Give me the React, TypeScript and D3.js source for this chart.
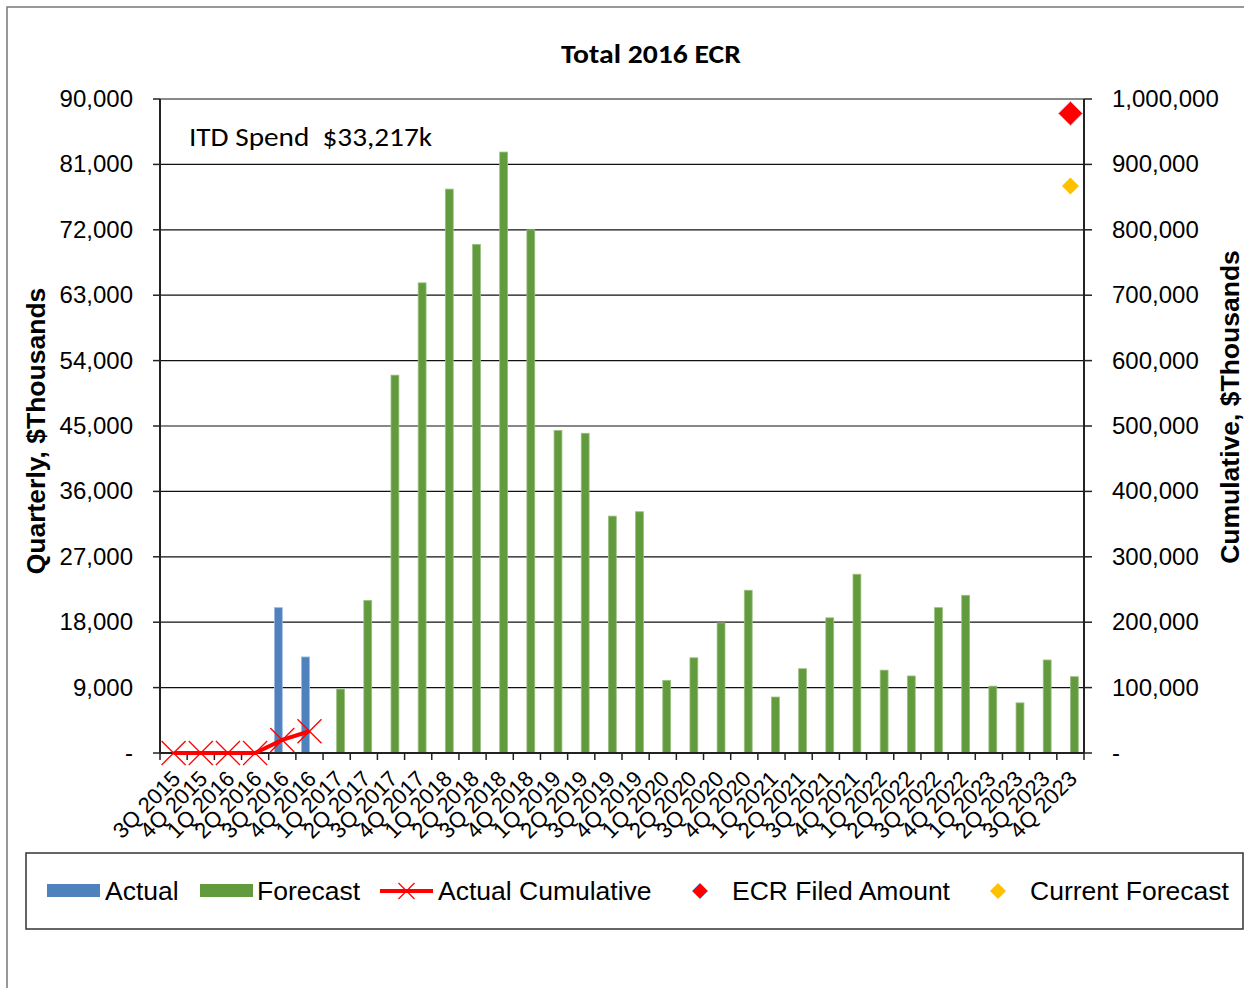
import React from 'react';
import * as d3 from 'd3';

// quarters shown on the x axis
const quarters = [
  '3Q 2015', '4Q 2015',
  '1Q 2016', '2Q 2016', '3Q 2016', '4Q 2016',
  '1Q 2017', '2Q 2017', '3Q 2017', '4Q 2017',
  '1Q 2018', '2Q 2018', '3Q 2018', '4Q 2018',
  '1Q 2019', '2Q 2019', '3Q 2019', '4Q 2019',
  '1Q 2020', '2Q 2020', '3Q 2020', '4Q 2020',
  '1Q 2021', '2Q 2021', '3Q 2021', '4Q 2021',
  '1Q 2022', '2Q 2022', '3Q 2022', '4Q 2022',
  '1Q 2023', '2Q 2023', '3Q 2023', '4Q 2023',
];

// quarterly spend, $Thousands (null = no bar)
const actual: (number | null)[] = [
  null, null, null, null, 20000, 13217,
];
const forecast: (number | null)[] = [
  null, null, null, null, null, null,
  8800, 21000, 52000, 64700,
  77600, 70000, 82700, 72000,
  44400, 44000, 32600, 33200,
  10000, 13100, 17900, 22400,
  7700, 11600, 18600, 24600,
  11400, 10600, 20000, 21700,
  9200, 6900, 12800, 10500,
];
// cumulative actual, $Thousands (right axis)
const actualCumulative = [0, 0, 0, 0, 20000, 33217];

const ecrFiled = { quarter: '4Q 2023', value: 978000 };
const currentForecast = { quarter: '4Q 2023', value: 867000 };

const leftTicks = d3.range(0, 90001, 9000);
const rightTicks = d3.range(0, 1000001, 100000);

const BLUE = '#4F81BD';
const GREEN = '#629A3E';
const RED = '#FF0000';
const GOLD = '#FFC000';
const ARIAL = '"Liberation Sans", Arial, sans-serif';
const CALIBRI = 'Carlito, Lato, "Open Sans", sans-serif';

const margin = { top: 99, left: 160, right: 1084, bottom: 753 };

const fmt = (v: number) => (v === 0 ? '-' : d3.format(',')(v));

const XMark = ({ x, y, r, w }: { x: number; y: number; r: number; w: number }) => (
  <g stroke={RED} strokeWidth={w}>
    <line x1={x - r} y1={y - r} x2={x + r} y2={y + r} />
    <line x1={x - r} y1={y + r} x2={x + r} y2={y - r} />
  </g>
);

const Diamond = ({ x, y, r, fill, stroke }: { x: number; y: number; r: number; fill: string; stroke?: string }) => (
  <path
    d={`M${x},${y - r}L${x + r},${y}L${x},${y + r}L${x - r},${y}Z`}
    fill={fill}
    stroke={stroke || 'none'}
    strokeWidth={1}
  />
);

const App: React.FC = () => {
  const x = d3.scaleBand<string>()
    .domain(quarters)
    .range([margin.left, margin.right])
    .paddingInner(0)
    .paddingOuter(0);
  const bw = x.bandwidth();

  const x1 = d3.scaleBand<string>()
    .domain(['Actual', 'Forecast'])
    .range([bw * 0.21, bw * 0.79]);

  const yL = d3.scaleLinear().domain([0, 90000]).range([margin.bottom, margin.top]);
  const yR = d3.scaleLinear().domain([0, 1000000]).range([margin.bottom, margin.top]);

  const cx = (q: string) => (x(q) || 0) + bw / 2;

  const cumPts = actualCumulative.map((v, i) => [cx(quarters[i]), yR(v)] as [number, number]);
  const cumLine = d3.line()(cumPts) || '';

  const boundaries = quarters.map((q) => x(q) || 0).concat([margin.right]);

  return (
    <svg width={1244} height={988} style={{ position: 'absolute', left: 0, top: 0, background: '#fff' }}>
      {/* chart frame */}
      <rect x={7} y={7} width={1300} height={1100} fill="#fff" stroke="#777" strokeWidth={1.5} />

      <text x={651} y={63} textAnchor="middle" fontFamily={CALIBRI} fontWeight="bold" fontSize={27}
        textLength={180} lengthAdjust="spacingAndGlyphs">
        Total 2016 ECR
      </text>

      {/* gridlines */}
      {leftTicks.map((t) => (
        <line key={'g' + t} x1={margin.left} x2={margin.right} y1={yL(t)} y2={yL(t)}
          stroke={t === 90000 ? '#888' : '#111'} strokeWidth={t === 90000 ? 2 : 1.2} />
      ))}

      {/* bars */}
      {quarters.map((q, i) => (
        <g key={q}>
          {actual[i] != null && (
            <rect x={(x(q) || 0) + (x1('Actual') || 0)} width={x1.bandwidth()}
              y={yL(actual[i] as number)} height={margin.bottom - yL(actual[i] as number)}
              fill={BLUE} stroke="#9DB9DC" strokeWidth={0.8} />
          )}
          {forecast[i] != null && (
            <rect x={(x(q) || 0) + (x1('Forecast') || 0)} width={x1.bandwidth()}
              y={yL(forecast[i] as number)} height={margin.bottom - yL(forecast[i] as number)}
              fill={GREEN} stroke="#9CC07F" strokeWidth={0.8} />
          )}
        </g>
      ))}

      {/* axes */}
      <line x1={margin.left} x2={margin.left} y1={margin.top} y2={margin.bottom} stroke="#222" strokeWidth={2} />
      <line x1={margin.right} x2={margin.right} y1={margin.top} y2={margin.bottom} stroke="#222" strokeWidth={2} />
      <line x1={margin.left} x2={margin.right} y1={margin.bottom} y2={margin.bottom} stroke="#222" strokeWidth={2} />
      {leftTicks.map((t) => (
        <g key={'l' + t}>
          <line x1={margin.left - 7} x2={margin.left} y1={yL(t)} y2={yL(t)} stroke="#222" strokeWidth={1.5} />
          <text x={133} y={yL(t) + 8} textAnchor="end" fontFamily={ARIAL} fontSize={24}>{fmt(t)}</text>
        </g>
      ))}
      {rightTicks.map((t) => (
        <g key={'r' + t}>
          <line x1={margin.right} x2={margin.right + 8} y1={yR(t)} y2={yR(t)} stroke="#222" strokeWidth={1.5} />
          <text x={1112} y={yR(t) + 8} textAnchor="start" fontFamily={ARIAL} fontSize={24}>{fmt(t)}</text>
        </g>
      ))}
      {boundaries.map((b, i) => (
        <line key={'t' + i} x1={b} x2={b} y1={margin.bottom} y2={margin.bottom + 7} stroke="#222" strokeWidth={1.5} />
      ))}
      {quarters.map((q) => (
        <text key={'x' + q} transform={`translate(${cx(q) + 8},${margin.bottom + 27}) rotate(-45)`}
          textAnchor="end" fontFamily={ARIAL} fontSize={22}>{q}</text>
      ))}

      <text transform="translate(45,431) rotate(-90)" textAnchor="middle" fontFamily={ARIAL}
        fontWeight="bold" fontSize={26.5}>Quarterly, $Thousands</text>
      <text transform="translate(1239,407) rotate(-90)" textAnchor="middle" fontFamily={ARIAL}
        fontWeight="bold" fontSize={26.5}>Cumulative, $Thousands</text>

      {/* cumulative actual line */}
      <path d={cumLine} fill="none" stroke={RED} strokeWidth={4} />
      {cumPts.map(([px, py], i) => (
        <XMark key={'c' + i} x={px} y={py} r={12} w={1.3} />
      ))}

      {/* ECR filed / current forecast markers */}
      <Diamond x={cx(ecrFiled.quarter)} y={yR(ecrFiled.value)} r={12} fill={RED} stroke="#9DB9DC" />
      <Diamond x={cx(currentForecast.quarter)} y={yR(currentForecast.value)} r={8.5} fill={GOLD} />

      <text x={189} y={146} fontFamily={CALIBRI} fontSize={26} textLength={243} lengthAdjust="spacingAndGlyphs"
        style={{ whiteSpace: 'pre' }}>ITD Spend  $33,217k</text>

      {/* legend */}
      <rect x={26} y={853} width={1217} height={76} fill="#fff" stroke="#333" strokeWidth={1.5} />
      <rect x={47} y={884} width={53} height={13} fill={BLUE} />
      <text x={105} y={900} fontFamily={ARIAL} fontSize={26.5}>Actual</text>
      <rect x={200} y={884} width={53} height={13} fill={GREEN} />
      <text x={257} y={900} fontFamily={ARIAL} fontSize={26.5}>Forecast</text>
      <line x1={380} x2={433} y1={891} y2={891} stroke={RED} strokeWidth={4} />
      <XMark x={406.5} y={891} r={8} w={1.3} />
      <text x={438} y={900} fontFamily={ARIAL} fontSize={26.5}>Actual Cumulative</text>
      <Diamond x={700} y={891} r={8} fill={RED} stroke="#9DB9DC" />
      <text x={732} y={900} fontFamily={ARIAL} fontSize={26.5}>ECR Filed Amount</text>
      <Diamond x={998} y={891} r={8} fill={GOLD} />
      <text x={1030} y={900} fontFamily={ARIAL} fontSize={26.5}>Current Forecast</text>
    </svg>
  );
};

export default App;
